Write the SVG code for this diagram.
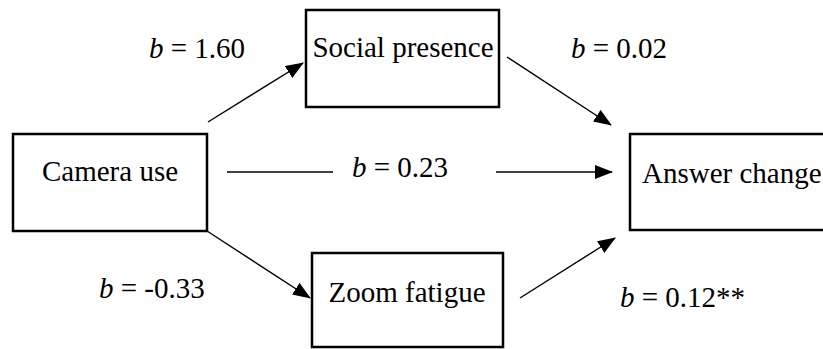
<svg xmlns="http://www.w3.org/2000/svg" width="823" height="349" viewBox="0 0 823 349">
<style>
.box{fill:#fff;stroke:#000;stroke-width:2.5}
text{font-family:"Liberation Serif",serif;font-size:29px;fill:#000}
.c{stroke:#000;stroke-width:1.4;fill:none}
</style>
<defs>
<marker id="ah" markerUnits="userSpaceOnUse" markerWidth="19" markerHeight="15" refX="17" refY="7" orient="auto">
<path d="M0,0 L18,7 L0,14 z" fill="#000"/>
</marker>
</defs>
<rect width="823" height="349" fill="#fff"/>
<g id="camera">
<rect class="box" x="13" y="134" width="194" height="97"/>
<text x="110" y="181" text-anchor="middle">Camera use</text>
</g>
<g id="social">
<rect class="box" x="306" y="10" width="193" height="97"/>
<text x="403" y="57" text-anchor="middle">Social presence</text>
</g>
<g id="zoom">
<rect class="box" x="312" y="253" width="191" height="94"/>
<text x="407" y="302" text-anchor="middle">Zoom fatigue</text>
</g>
<g id="answer">
<rect class="box" x="630" y="134" width="210" height="96"/>
<text x="642" y="183">Answer change</text>
</g>
<g id="connectors">
<line class="c" x1="208" y1="122" x2="303" y2="63" marker-end="url(#ah)"/>
<line class="c" x1="507" y1="57" x2="611" y2="125" marker-end="url(#ah)"/>
<line class="c" x1="227" y1="172" x2="333" y2="172"/>
<line class="c" x1="496" y1="172" x2="612" y2="172" marker-end="url(#ah)"/>
<line class="c" x1="207" y1="231" x2="310" y2="298" marker-end="url(#ah)"/>
<line class="c" x1="520" y1="298" x2="615" y2="238" marker-end="url(#ah)"/>
</g>
<g id="labels" font-family="'Liberation Serif', serif">
<text x="149" y="58"><tspan font-style="italic">b</tspan> = 1.60</text>
<text x="571" y="58"><tspan font-style="italic">b</tspan> = 0.02</text>
<text x="352" y="177"><tspan font-style="italic">b</tspan> = 0.23</text>
<text x="99" y="298"><tspan font-style="italic">b</tspan> = -0.33</text>
<text x="620" y="307"><tspan font-style="italic">b</tspan> = 0.12**</text>
</g>
</svg>
